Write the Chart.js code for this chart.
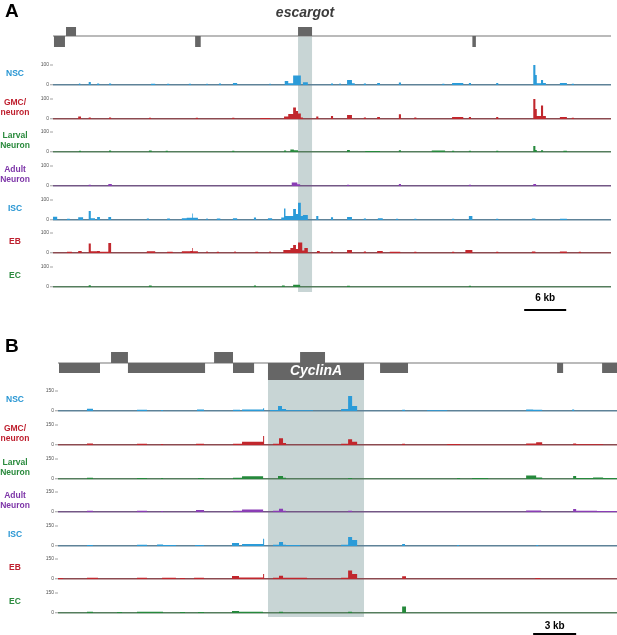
<!DOCTYPE html>
<html>
<head>
<meta charset="utf-8">
<script src="https://cdn.jsdelivr.net/npm/chart.js"></script>
<style>
  body { margin: 0; background: #fff; }
  #page { position: relative; width: 617px; height: 635px; overflow: hidden; font-family: Arial, "Liberation Sans", sans-serif; }
  #page canvas { position: absolute; left: 0; }
  .lbl { position: absolute; left: 0; width: 30px; text-align: center; font-weight: bold; font-size: 8.5px; line-height: 10px; white-space: pre; }
  .panel { position: absolute; left: 5px; font-weight: bold; font-size: 19px; line-height: 19px; }
</style>
</head>
<body>
<div id="page"></div>
<script>
// cell types shown as tracks, top to bottom
const cellTypes = ["NSC", "GMC/\nneuron", "Larval\nNeuron", "Adult\nNeuron", "ISC", "EB", "EC"];

// ---- panel A: escargot locus (kb from left edge of view) ----
const viewA = [0, 79.7];
const yMaxA = 100;
const geneA = ["escargot", 35.0, 37.0];
// exons: start, end, row (1 = above line, -1 = below)
const exonsA = [[0.14, 1.71, -1], [1.86, 3.29, 1], [20.3, 21.1, -1], [35.0, 37.0, 1], [59.9, 60.4, -1]];
const scaleBarA = [67.3, 6, "6 kb"];

// peaks: start kb, end kb, signal
const nscA = [[3.7,3.9,8],[5.1,5.4,15],[6.3,6.6,7],[8.0,8.3,7],[14.0,14.6,6],[16.3,16.6,6],[19.4,19.7,6],[21.9,22.1,6],
  [23.7,24.0,7],[25.7,26.3,10],[30.9,31.1,6],[33.1,33.6,20],[33.6,34.3,9],[34.3,35.4,48],[35.7,36.4,14],[39.7,40.0,7],
  [40.9,41.1,7],[42.0,42.7,25],[42.7,43.1,9],[44.4,44.7,7],[46.3,46.7,10],[49.4,49.7,12],[55.6,55.9,6],[57.0,58.6,10],
  [59.4,59.7,10],[63.3,63.6,10],[68.6,68.9,100],[68.9,69.1,50],[69.1,69.7,9],[69.7,70.0,25],[70.0,70.4,10],[72.4,73.4,10],[74.1,74.4,6]];
const gmcA = [[3.6,4.0,12],[5.1,5.4,7],[8.0,8.3,7],[13.7,14.0,6],[20.4,20.7,6],[25.6,25.9,6],[29.6,31.0,5],[33.0,33.6,12],
  [33.6,34.3,25],[34.3,34.7,58],[34.7,35.0,40],[35.0,35.4,28],[35.4,35.7,8],[37.6,37.9,12],[39.7,40.0,15],[42.0,42.7,20],
  [44.4,44.7,7],[46.3,46.7,10],[49.4,49.7,24],[51.6,51.9,7],[57.0,58.6,10],[59.4,59.7,10],[63.3,63.6,10],[68.6,68.9,100],
  [68.9,69.1,50],[69.1,69.7,15],[69.7,70.0,68],[70.0,70.4,15],[72.4,73.4,10],[74.1,74.4,6]];
const larvalA = [[3.7,4.0,6],[8.0,8.3,7],[13.7,14.1,7],[16.1,16.4,6],[25.6,25.9,6],[33.0,33.3,7],[33.9,34.4,12],[34.4,35.0,9],
  [42.0,42.4,10],[44.6,46.7,5],[49.4,49.7,9],[54.1,56.0,7],[57.0,57.3,6],[59.4,59.7,6],[63.3,63.6,6],[68.6,68.9,30],
  [68.9,69.1,10],[69.7,70.0,9],[72.9,73.4,6]];
const adultA = [[5.1,5.4,6],[7.9,8.4,10],[34.1,34.9,18],[34.9,35.3,9],[42.0,42.3,6],[49.4,49.7,10],[59.4,59.7,6],[68.6,69.0,10]];
const iscA = [[0,0.6,16],[2.0,2.4,6],[3.6,4.3,14],[5.1,5.4,45],[5.4,6.0,9],[6.3,6.7,15],[7.9,8.3,15],[13.4,13.7,8],[16.3,16.7,7],
  [18.4,19.1,9],[19.1,19.9,11],[19.9,20.0,33],[20.0,20.7,11],[21.9,22.1,7],[23.4,23.9,7],[25.7,26.3,9],[28.7,29.0,12],
  [30.7,31.3,9],[32.6,33.0,12],[33.0,33.2,58],[33.2,34.3,20],[34.3,34.7,55],[34.7,35.0,30],[35.0,35.4,86],[35.4,35.7,20],
  [35.7,36.4,25],[37.6,37.9,20],[39.7,40.0,14],[42.0,42.7,15],[44.4,44.7,7],[46.4,47.1,9],[49.0,49.3,6],[51.6,51.9,6],
  [57.0,57.3,6],[59.4,59.9,20],[63.3,63.6,6],[68.4,68.9,7],[72.4,73.4,6]];
const ebA = [[2.0,2.7,6],[3.6,4.1,10],[5.1,5.4,48],[5.4,6.3,9],[6.3,6.7,10],[6.7,7.9,6],[7.9,8.3,50],[13.4,14.6,9],[16.3,17.1,6],
  [18.4,19.6,9],[19.6,19.9,10],[19.9,20.0,25],[20.0,20.7,9],[21.9,22.1,7],[23.4,23.7,6],[25.9,26.1,7],[28.9,29.3,6],
  [30.9,31.1,7],[32.9,33.9,15],[33.9,34.3,25],[34.3,34.7,40],[34.7,35.0,20],[35.0,35.6,53],[35.6,35.9,12],[35.9,36.4,25],
  [37.7,38.1,10],[39.7,40.0,8],[42.0,42.7,15],[44.4,44.7,7],[46.3,47.1,10],[48.1,49.6,6],[51.6,51.9,6],[57.0,57.3,6],
  [58.9,59.9,15],[63.3,63.6,6],[68.4,68.9,7],[72.4,73.4,7],[75.1,75.4,6]];
const ecA = [[5.1,5.4,9],[13.7,14.1,7],[28.7,29.0,7],[32.7,33.1,7],[34.3,35.3,11],[42.0,42.4,6],[59.4,59.7,6]];

// ---- panel B: CyclinA locus ----
const viewB = [0, 39.0];
const yMaxB = 150;
const geneB = ["CyclinA", 14.65, 21.35];
const exonsB = [[3.70, 4.88, 1], [10.89, 12.21, 1], [16.89, 18.63, 1], [0.07, 2.93, -1], [4.88, 10.26, -1], [12.21, 13.68, -1],
  [14.65, 21.35, -1], [22.47, 24.42, -1], [34.82, 35.24, -1], [37.96, 39.0, -1]];
const scaleBarB = [33.15, 3, "3 kb"];

const nscB = [[2.02,2.44,16],[5.51,6.21,10],[7.19,7.33,8],[9.70,10.19,12],[12.21,12.70,9],[12.84,14.31,12],[14.31,14.38,20],
  [14.79,15.35,7],[15.35,15.63,38],[15.63,15.91,15],[15.91,17.79,6],[19.75,20.24,15],[20.24,20.52,113],[20.52,20.87,38],
  [24.01,24.21,10],[25.75,27.15,6],[32.66,33.15,12],[33.15,33.78,9],[35.87,36.01,12]];
const gmcB = [[2.02,2.44,12],[5.51,6.21,10],[7.19,7.33,8],[9.63,10.19,10],[12.21,12.84,9],[12.84,14.31,25],[14.31,14.38,68],
  [15.00,15.42,10],[15.42,15.70,50],[15.70,15.91,15],[19.75,20.24,10],[20.24,20.52,43],[20.52,20.87,25],[24.01,24.21,10],
  [27.15,28.05,7],[32.66,33.36,12],[33.36,33.78,20],[35.94,36.15,12],[36.15,38.03,6]];
const larvalB = [[2.02,2.44,10],[5.51,6.21,8],[7.19,7.33,7],[9.77,10.19,8],[12.21,12.84,10],[12.84,14.31,20],[15.35,15.70,23],
  [15.70,15.91,10],[20.24,20.52,8],[27.84,28.05,8],[28.89,30.01,7],[32.66,33.36,26],[33.36,33.78,12],[35.94,36.15,22],
  [36.15,37.33,7],[37.33,38.03,12],[38.03,39.0,7]];
const adultB = [[2.02,2.44,9],[5.51,6.21,10],[7.19,7.33,7],[9.63,10.19,15],[12.21,12.84,9],[12.84,14.31,18],[15.00,15.42,9],
  [15.42,15.70,25],[15.70,15.91,10],[20.24,20.52,10],[32.66,33.71,12],[35.94,36.15,22],[36.15,37.33,9],[37.33,37.61,10],[37.61,39.0,7]];
const iscB = [[2.02,2.44,8],[5.51,6.21,10],[6.91,7.33,12],[7.33,8.23,8],[9.56,10.19,8],[12.14,12.63,23],[12.84,14.31,15],
  [14.31,14.38,55],[15.00,15.42,10],[15.42,15.70,30],[15.70,15.91,10],[15.91,16.89,7],[19.75,20.24,10],[20.24,20.52,68],
  [20.52,20.87,45],[24.01,24.21,15],[27.84,27.98,7],[33.36,33.50,7]];
const ebB = [[0,0.35,8],[2.02,2.79,10],[5.51,6.21,10],[7.26,8.23,10],[8.51,8.86,8],[9.49,10.19,10],[12.14,12.63,23],[12.63,14.31,12],
  [14.31,14.38,38],[15.00,15.42,10],[15.42,15.70,25],[15.70,17.38,9],[19.75,20.24,10],[20.24,20.52,63],[20.52,20.87,38],
  [24.01,24.28,20],[33.29,33.64,8]];
const ecB = [[2.02,2.44,10],[4.12,4.47,7],[5.51,7.33,9],[8.51,8.86,7],[9.77,10.19,8],[12.14,12.63,15],[12.63,14.31,10],
  [15.42,15.70,10],[20.24,20.52,10],[24.01,24.28,48]];

// ---- styles ----
const trackColors = ["#2b9bd8", "#c1272d", "#26893c", "#8a3db5", "#2b9bd8", "#c1272d", "#26893c"];
const labelColors = ["#2896d3", "#be1e2d", "#2a8a3d", "#7d35a8", "#2896d3", "#be1e2d", "#2a8a3d"];
const baseColors = ["#5e8298", "#8c4a50", "#557d5d", "#735785", "#5e8298", "#8c4a50", "#557d5d"];
const SHADE = "#c8d5d5";

const panels = [
  { letter: "A", letterTop: 1, view: viewA, yMax: yMaxA, gene: geneA, exons: exonsA, bar: scaleBarA,
    tracks: [nscA, gmcA, larvalA, adultA, iscA, ebA, ecA],
    baselines: [85, 119, 152, 186, 220, 253, 287], axisW: 53, padRight: 6,
    geneTop: 0, geneLine: 36, geneBottom: 60, up: 9, down: -11, tall: -11,
    labelDy: -19, labelColor: "#3c3c3c", shadeBelow: 5, barDy: 23, barTextDy: 11, bottom: 316 },
  { letter: "B", letterTop: 336, view: viewB, yMax: yMaxB, gene: geneB, exons: exonsB, bar: scaleBarB,
    tracks: [nscB, gmcB, larvalB, adultB, iscB, ebB, ecB],
    baselines: [411, 445, 479, 512, 546, 579, 613], axisW: 58, padRight: 0,
    geneTop: 336, geneLine: 363, geneBottom: 383, up: 11, down: -10, tall: -17,
    labelDy: 12, labelColor: "#ffffff", shadeBelow: 4, barDy: 21, barTextDy: 13, bottom: 635 }
];

// shaded highlight behind the gene of interest
const shadePlugin = {
  id: "shade",
  beforeDraw(chart, args, o) {
    if (!o.range) return;
    const x = chart.scales.x, ctx = chart.ctx;
    const y0 = chart.scales.y.getPixelForValue(0);
    const x1 = x.getPixelForValue(o.range[0]), x2 = x.getPixelForValue(o.range[1]);
    const top = o.fromLine ? y0 : 0;
    const bottom = o.below != null ? y0 + o.below : chart.height;
    ctx.save();
    ctx.fillStyle = SHADE;
    ctx.fillRect(x1, top, x2 - x1, bottom - top);
    ctx.restore();
  }
};

// gene name and scale bar, placed with the x scale
const notePlugin = {
  id: "note",
  afterDraw(chart, args, o) {
    const ctx = chart.ctx, x = chart.scales.x;
    const y0 = chart.scales.y.getPixelForValue(0);
    ctx.save();
    if (o.gene) {
      ctx.font = "italic bold 14px Arial, 'Liberation Sans', sans-serif";
      ctx.fillStyle = o.color;
      ctx.textAlign = "center";
      ctx.textBaseline = "alphabetic";
      const mid = (x.getPixelForValue(o.gene[1]) + x.getPixelForValue(o.gene[2])) / 2;
      ctx.fillText(o.gene[0], mid, y0 + o.dy);
    }
    if (o.bar) {
      const a = x.getPixelForValue(o.bar[0]), b = x.getPixelForValue(o.bar[0] + o.bar[1]);
      ctx.fillStyle = "#000";
      ctx.fillRect(a, y0 + o.barDy - 1, b - a, 2);
      ctx.font = "bold 10px Arial, 'Liberation Sans', sans-serif";
      ctx.textAlign = "center";
      ctx.textBaseline = "middle";
      ctx.fillText(o.bar[2], (a + b) / 2, y0 + o.textDy);
    }
    ctx.restore();
  }
};

const page = document.getElementById("page");

function addCanvas(top, height) {
  const c = document.createElement("canvas");
  c.width = 617;
  c.height = height;
  c.style.top = top + "px";
  page.appendChild(c);
  return c;
}

// stepped outline: each peak rises at its start and drops at its end
function toSteps(peaks, view) {
  const pts = [{ x: view[0], y: 0 }];
  peaks.forEach((p) => pts.push({ x: p[0], y: p[2] }, { x: p[1], y: 0 }));
  pts.push({ x: view[1], y: 0 });
  return pts;
}

function drawGene(p) {
  const h = p.geneBottom - p.geneTop;
  const canvas = addCanvas(p.geneTop, h);
  const isGene = (e) => e[0] === p.gene[1] && e[1] === p.gene[2];
  const upper = p.exons.filter((e) => e[2] > 0).map((e) => [e[0], e[1], p.up]);
  const lower = p.exons.filter((e) => e[2] < 0).map((e) => [e[0], e[1], isGene(e) ? p.tall : p.down]);
  upper.sort((a, b) => a[0] - b[0]);
  lower.sort((a, b) => a[0] - b[0]);
  new Chart(canvas, {
    type: "line",
    data: {
      datasets: [
        { data: toSteps(upper, p.view), stepped: true, fill: "origin", backgroundColor: "#666666", borderWidth: 0, borderColor: "rgba(0,0,0,0)", pointRadius: 0 },
        { data: toSteps(lower, p.view), stepped: true, fill: "origin", backgroundColor: "#666666", borderWidth: 0, borderColor: "rgba(0,0,0,0)", pointRadius: 0 },
        { data: [{ x: p.view[0], y: 0 }, { x: p.view[1], y: 0 }], borderColor: "#a3a3a3", borderWidth: 1.5, fill: false, pointRadius: 0 }
      ]
    },
    options: {
      responsive: false,
      animation: false,
      layout: { padding: { left: p.axisW, right: p.padRight, top: 0, bottom: 0 } },
      scales: {
        x: { type: "linear", min: p.view[0], max: p.view[1], display: false },
        y: { min: -(p.geneBottom - p.geneLine), max: p.geneLine - p.geneTop, display: false }
      },
      plugins: {
        legend: { display: false },
        tooltip: { enabled: false },
        shade: { range: [p.gene[1], p.gene[2]], fromLine: true },
        note: { gene: p.gene, color: p.labelColor, dy: p.labelDy }
      }
    },
    plugins: [shadePlugin, notePlugin]
  });
}

function drawTrack(p, i) {
  const base = p.baselines[i];
  const last = i === p.tracks.length - 1;
  const top = i === 0 ? p.geneBottom : p.baselines[i - 1] + 8;
  const bottom = last ? p.bottom : base + 8;
  const canvas = addCanvas(top, bottom - top);
  const axisW = p.axisW;
  const baseCol = baseColors[i];

  new Chart(canvas, {
    type: "line",
    data: {
      datasets: [{
        data: toSteps(p.tracks[i], p.view),
        stepped: true,
        fill: "origin",
        backgroundColor: trackColors[i],
        borderWidth: 0,
        borderColor: "rgba(0,0,0,0)",
        pointRadius: 0
      }]
    },
    options: {
      responsive: false,
      animation: false,
      layout: { padding: { left: 0, right: p.padRight, top: base - 20 - top, bottom: bottom - base } },
      scales: {
        x: { type: "linear", min: p.view[0], max: p.view[1], display: false },
        y: {
          min: 0,
          max: p.yMax,
          afterFit: (s) => { s.width = axisW; },
          border: { display: false },
          grid: {
            color: (c) => (c.tick && c.tick.value === 0 ? baseCol : "rgba(0,0,0,0)"),
            lineWidth: (c) => (c.tick && c.tick.value === 0 ? 1.5 : 0),
            tickLength: 3,
            tickColor: "#8a8a8a",
            tickWidth: 0.8
          },
          ticks: { stepSize: p.yMax, autoSkip: false, padding: 1, color: "#555", font: { size: 5, family: "Arial" } }
        }
      },
      plugins: {
        legend: { display: false },
        tooltip: { enabled: false },
        shade: { range: [p.gene[1], p.gene[2]], below: last ? p.shadeBelow : null },
        note: last ? { bar: p.bar, barDy: p.barDy, textDy: p.barTextDy } : {}
      }
    },
    plugins: [shadePlugin, notePlugin]
  });

  // cell type label on the left
  const lines = cellTypes[i].split("\n").length;
  const lbl = document.createElement("div");
  lbl.className = "lbl";
  lbl.style.color = labelColors[i];
  lbl.style.top = (base - 12 - lines * 5) + "px";
  lbl.textContent = cellTypes[i];
  page.appendChild(lbl);
}

panels.forEach((p) => {
  drawGene(p);
  p.tracks.forEach((t, i) => drawTrack(p, i));
  const letter = document.createElement("div");
  letter.className = "panel";
  letter.style.top = p.letterTop + "px";
  letter.textContent = p.letter;
  page.appendChild(letter);
});
</script>
</body>
</html>
